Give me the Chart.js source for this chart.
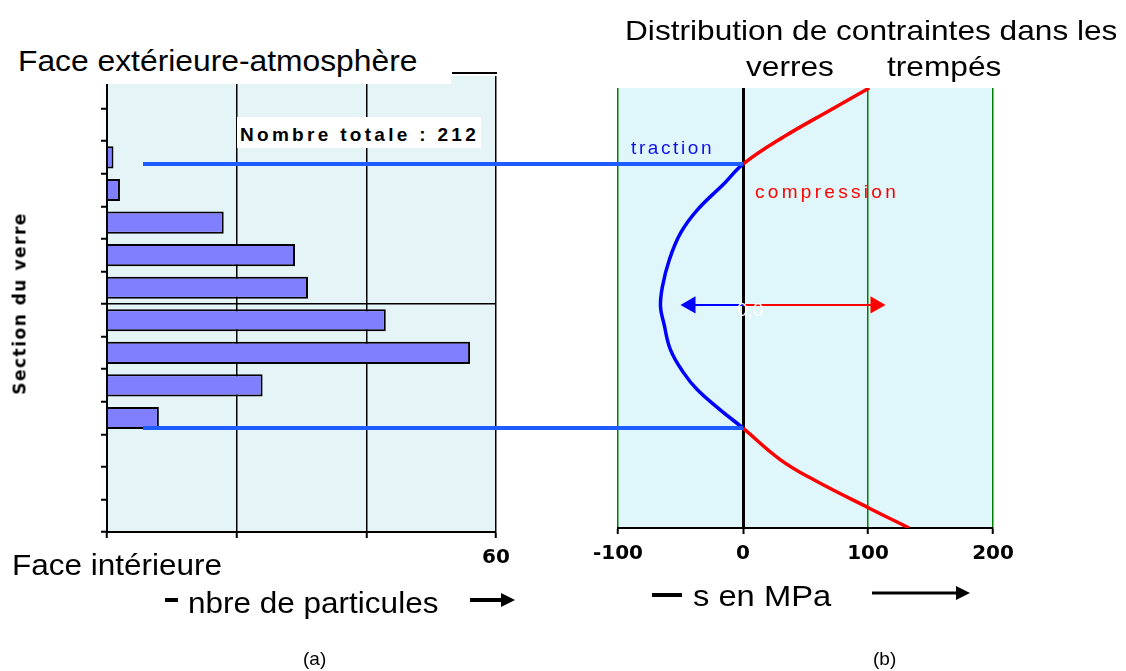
<!DOCTYPE html>
<html>
<head>
<meta charset="utf-8">
<script src="https://cdn.jsdelivr.net/npm/chart.js@4.4.0/dist/chart.umd.min.js"></script>
<style>
  body { margin: 0; background: #fff; }
  #wrap { position: relative; width: 1126px; height: 671px; overflow: hidden;
          font-family: "Liberation Sans", Arial, sans-serif; }
  canvas { position: absolute; left: 0; top: 0; }
  .t { position: absolute; white-space: nowrap; line-height: 1; color: #000; }
  .box { position: absolute; background: #fff; }
  svg { position: absolute; left: 0; top: 0; }
</style>
</head>
<body>
<div id="wrap">
  <canvas id="histo" width="1126" height="671"></canvas>
  <canvas id="stress" width="1126" height="671"></canvas>

  <!-- (a) textes -->
  <div class="box" style="left:0;top:40px;width:451px;height:44px"></div>
  <div class="t" style="left:18px;top:46px;font-size:30px;transform:scaleX(1.06);transform-origin:left">Face extérieure-atmosphère</div>
  <div class="box" style="left:237px;top:117px;width:244px;height:31px"></div>
  <div class="t" style="left:240px;top:125px;font-size:19px;font-weight:bold;letter-spacing:3.3px">Nombre totale : 212</div>
  <div class="t" style="left:-80px;top:295px;width:200px;text-align:center;font-family:'DejaVu Sans',sans-serif;font-size:17px;font-weight:bold;letter-spacing:1.5px;transform:rotate(-90deg)">Section du verre</div>
  <div class="t" style="left:12px;top:550px;font-size:30px;transform:scaleX(1.05);transform-origin:left">Face intérieure</div>
  <div class="t" style="left:188px;top:588px;font-size:30px;transform:scaleX(1.05);transform-origin:left">nbre de particules</div>
  <div class="t" style="left:303px;top:649px;font-size:19px">(a)</div>

  <!-- (b) textes -->
  <div class="t" style="left:625px;top:17px;font-size:28px;transform:scaleX(1.13);transform-origin:left">Distribution de contraintes dans les</div>
  <div class="t" style="left:746px;top:53px;font-size:28px;transform:scaleX(1.13);transform-origin:left">verres</div>
  <div class="t" style="left:887px;top:53px;font-size:28px;transform:scaleX(1.13);transform-origin:left">trempés</div>
  <div class="t" style="left:631px;top:138px;font-size:19px;letter-spacing:2.6px;color:#1010e8">traction</div>
  <div class="t" style="left:755px;top:182px;font-size:19px;letter-spacing:3.3px;color:#ff0000">compression</div>
  <div class="t" style="left:737px;top:300px;font-size:19px;color:#fff">0,0</div>
  <div class="t" style="left:693px;top:581px;font-size:30px;transform:scaleX(1.09);transform-origin:left">s  en MPa</div>
  <div class="t" style="left:873px;top:649px;font-size:19px">(b)</div>

  <svg width="1126" height="671">
    <line x1="452" y1="73" x2="497" y2="73" stroke="#000" stroke-width="2"/>
    <line x1="165" y1="600" x2="178" y2="600" stroke="#000" stroke-width="4"/>
    <line x1="470" y1="600" x2="503" y2="600" stroke="#000" stroke-width="4"/>
    <polygon points="501,593 515,600 501,607" fill="#000"/>
    <line x1="652" y1="595" x2="682" y2="595" stroke="#000" stroke-width="4"/>
    <line x1="872" y1="593" x2="958" y2="593" stroke="#000" stroke-width="3"/>
    <polygon points="956,586 970,593 956,600" fill="#000"/>
  </svg>
</div>

<script>
// (a) tranches de l'épaisseur du verre, de la face extérieure (haut) à la face intérieure (bas)
const sections = ['1', '2', '3', '4', '5', '6', '7', '8', '9', '10', '11', '12', '13', '14'];
const particles = [0, 0, 1, 2, 18, 29, 31, 43, 56, 24, 8, 0, 0, 0];
const particleMax = 60;
const particleStep = 20;

// (b) profil de contraintes : position dans l'épaisseur (%) et contrainte (MPa)
const depth  = [100, 95, 88.8, 82.7, 78.3, 72.3, 67, 60.9, 54.8, 50.3, 46.5, 40.5, 35.2, 31.4, 26.8, 22.7, 15.5, 10.9, 4.5, 0];
const stress = [101, 70, 32, 0, -15, -36.5, -50, -59, -64.5, -66, -63.3, -58, -47.3, -36.5, -18, 0, 30, 57, 101, 133];
const stressMin = -100, stressMax = 200, stressStep = 100;

// flèches traction / compression au milieu de l'épaisseur
const arrowLevel = 50.7;
const tractionArrow = -42;
const compressionArrow = 106;

// traits bleus qui relient (a) à (b) aux points de contrainte nulle
const connectorStart = -480;

const BLUE = '#0000ff', RED = '#ff0000';

const plotBg = {
    id: 'plotBg',
    beforeDraw(chart, args, opts) {
        const a = chart.chartArea, ctx = chart.ctx;
        ctx.save();
        ctx.fillStyle = opts.color;
        ctx.fillRect(a.left, a.top, a.right - a.left, a.bottom - a.top);
        ctx.restore();
    }
};

var tickFont = { family: '"DejaVu Sans", sans-serif', size: 20, weight: 'bold' };
var axisBand = 40;   // hauteur réservée sous l'axe pour les étiquettes

// (a) histogramme horizontal
new Chart(document.getElementById('histo'), {
    type: 'bar',
    data: {
        labels: sections,
        datasets: [{
            data: particles.map(v => v || null),
            backgroundColor: '#8080ff',
            borderColor: '#000',
            borderWidth: 2,
            barPercentage: 0.68,
            categoryPercentage: 1
        }]
    },
    options: {
        indexAxis: 'y',
        responsive: false,
        animation: false,
        events: [],
        layout: { padding: { left: 107, top: 76, right: 630, bottom: 139 - axisBand } },
        plugins: {
            legend: { display: false },
            tooltip: { enabled: false },
            plotBg: { color: '#e5f4f7' }
        },
        scales: {
            x: {
                min: 0, max: particleMax,
                afterFit: s => { s.height = axisBand },
                border: { color: '#000', width: 2 },
                grid: { color: '#000', lineWidth: 1.5, tickColor: '#000', tickWidth: 2, tickLength: 6 },
                ticks: {
                    stepSize: particleStep, color: '#000', padding: 8, font: tickFont,
                    maxRotation: 0, autoSkip: false,
                    callback: v => v === particleMax ? String(v) : ''
                }
            },
            y: {
                afterFit: s => { s.width = 0 },
                border: { color: '#000', width: 2 },
                grid: {
                    color: c => c.index === sections.length / 2 ? '#000' : 'rgba(0,0,0,0)',
                    lineWidth: 1.5, tickColor: '#000', tickWidth: 2, tickLength: 6
                },
                ticks: { display: false }
            }
        }
    },
    plugins: [plotBg]
});

// (b) distribution des contraintes
const profile = depth.map((d, i) => ({ x: stress[i], y: d }));
const zeroDepths = depth.filter((d, i) => stress[i] === 0);
const connectors = zeroDepths.map(d => ({
    data: [{ x: connectorStart, y: d }, { x: 0, y: d }],
    showLine: true, borderColor: '#1f5cff', borderWidth: 4, pointRadius: 0, clip: false
}));

function arrow(tip, color, rot) {
    return {
        data: [{ x: 0, y: arrowLevel }, { x: tip, y: arrowLevel }],
        showLine: true, borderColor: color, borderWidth: 2,
        pointRadius: [0, 10], pointStyle: 'triangle', rotation: rot,
        pointBackgroundColor: color, pointBorderColor: color, pointBorderWidth: 0
    };
}

new Chart(document.getElementById('stress'), {
    type: 'scatter',
    data: {
        datasets: connectors.concat([
            {
                data: profile, showLine: true, borderWidth: 3.5, pointRadius: 0, tension: 0.4,
                borderColor: RED,
                segment: { borderColor: c => (c.p0.parsed.x < 0 || c.p1.parsed.x < 0) ? BLUE : RED }
            },
            arrow(tractionArrow, BLUE, -90),
            arrow(compressionArrow, RED, 90)
        ])
    },
    options: {
        responsive: false,
        animation: false,
        events: [],
        layout: { padding: { left: 618, top: 88, right: 133, bottom: 143 - axisBand } },
        plugins: {
            legend: { display: false },
            tooltip: { enabled: false },
            plotBg: { color: '#dff7fb' }
        },
        scales: {
            x: {
                type: 'linear', min: stressMin, max: stressMax,
                afterFit: s => { s.height = axisBand },
                border: { color: '#000', width: 2 },
                grid: {
                    color: c => c.tick && c.tick.value === 0 ? '#000' : '#008000',
                    lineWidth: c => c.tick && c.tick.value === 0 ? 3 : 1.5,
                    tickColor: '#000', tickWidth: 2, tickLength: 6
                },
                ticks: { stepSize: stressStep, color: '#000', padding: 7.5, font: tickFont, maxRotation: 0, autoSkip: false }
            },
            y: { min: 0, max: 100, display: false }
        }
    },
    plugins: [plotBg]
});
</script>
</body>
</html>
